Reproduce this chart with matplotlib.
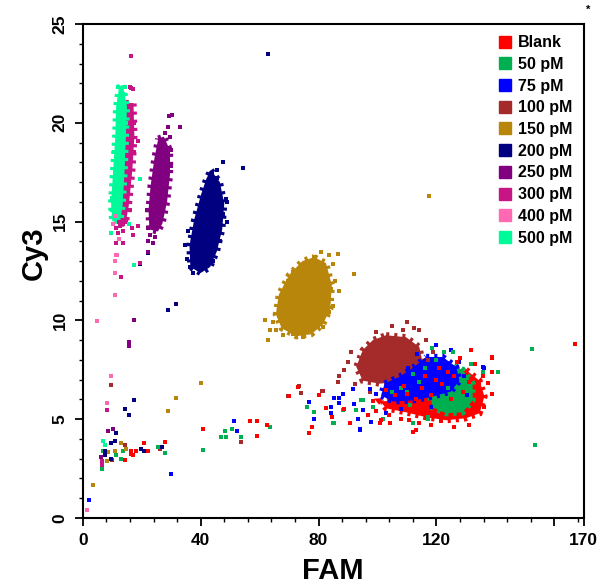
import matplotlib
matplotlib.use('Agg')
import matplotlib.pyplot as plt
from matplotlib.patches import Polygon
from matplotlib.lines import Line2D

plt.rcParams['font.family'] = ['Liberation Sans', 'DejaVu Sans']
plt.rcParams['font.weight'] = 'bold'

labels = ['Blank', '50 pM', '75 pM', '100 pM', '150 pM', '200 pM', '250 pM', '300 pM', '400 pM', '500 pM']
colors = ['#FF0000', '#00B050', '#0000FF', '#A52A2A', '#B8860B', '#000080', '#800080', '#C71585', '#FF69B4', '#00FA9A']

# dense cores (outline of the solid part of each cluster), FAM / Cy3
blank_core = [(130, 7.5), (134.6, 6.95), (136.3, 6.15), (134.6, 5.3), (130, 5.05), (123.3, 4.95), (116.5, 5.1),
              (109.7, 5.35), (102.9, 5.55), (101.0, 5.9), (107.5, 5.95), (114.2, 6.15), (119.9, 6.45), (125.5, 7.15)]
pm50_core = [(123.3, 7.8), (128.9, 7.5), (132.3, 6.8), (132.3, 5.95), (128.9, 5.35), (123.3, 5.3), (118.7, 5.6),
             (117.6, 6.45), (119.9, 7.3)]
pm75_core = [(116.5, 8.15), (122.1, 8.15), (126.7, 7.65), (127.8, 6.95), (124.9, 6.4), (118.7, 6.15), (112, 5.95),
             (105.2, 5.9), (101.2, 6.2), (102.4, 6.8), (107.5, 7.15), (112.5, 7.65)]
pm100_core = [(102.9, 9.25), (109.7, 9.15), (114.2, 8.65), (115.4, 7.8), (113.1, 7.2), (107.5, 6.9), (100.7, 6.8),
              (95, 6.95), (92.8, 7.65), (95, 8.5), (98.4, 9.0)]
pm150_core = [(78.5, 13.2), (82.5, 12.9), (84.5, 11.8), (84.0, 10.6), (81.5, 9.8), (77.5, 9.3), (72.5, 9.2),
              (67.5, 9.6), (65.5, 10.3), (66.5, 11.3), (70.0, 12.3), (74.5, 13.0)]
pm200_core = [(43.5, 17.6), (46.5, 17.0), (48.0, 15.9), (47.3, 14.6), (45.5, 13.5), (43.2, 12.7), (40.0, 12.4),
              (36.5, 12.7), (36.2, 13.8), (37.8, 15.1), (40.2, 16.4), (42.0, 17.2)]
pm250_core = [(25.6, 19.2), (27.5, 19.3), (29.6, 18.6), (29.6, 17.4), (28.6, 16.0), (27.0, 14.9), (25.5, 14.5),
              (22.6, 14.6), (22.3, 15.6), (23.0, 16.8), (24.3, 18.2)]
pm300_core = [(14.6, 21.0), (17.2, 21.0), (17.5, 19.3), (16.8, 17.6), (15.6, 15.8), (14.5, 14.9), (11.8, 14.9),
              (12.0, 15.9), (13.0, 17.6), (13.6, 19.3), (13.6, 20.8)]
pm500_core = [(13.6, 21.9), (15.0, 20.8), (14.6, 19.2), (14.2, 17.6), (13.5, 15.8), (12.8, 15.1), (10.0, 15.0),
              (9.6, 15.9), (10.3, 17.6), (11.0, 19.2), (11.3, 20.8), (12.3, 21.8)]

# single drops
blank_pts = [(14.2, 2.95), (16.3, 3.4), (16.4, 3.25), (17.2, 3.2), (17.9, 3.4), (20.7, 3.8), (22.1, 3.4), (28.0, 3.85),
             (40.8, 4.5), (56.6, 4.9), (59.2, 4.9), (59.2, 4.15), (62.6, 4.7), (73, 6.65), (69.9, 6.15), (80.1, 6.25),
             (82.6, 5.55), (84.6, 5.1), (77.8, 4.6), (76.6, 4.3), (88.5, 5.5), (90.5, 4.8), (96.7, 5.2), (100.7, 4.8),
             (112, 4.35), (121.6, 4.9), (114.2, 4.8), (138.9, 8.1), (138.9, 7.4), (135.7, 7.2), (137.6, 6.85),
             (134.6, 6.85), (167.1, 8.8), (104, 5.2), (108, 5.0), (118, 4.7), (126, 4.6), (131, 4.7), (136, 5.6),
             (139, 6.3), (133, 7.8), (128, 8.1), (131.7, 8.5), (139, 8.15), (101.2, 4.95), (110.8, 4.95),
             (113.1, 4.45), (104.1, 4.8), (110, 6.3), (115, 6.6), (120, 7.0), (124, 7.4), (127, 7.9), (118, 6.2),
             (122, 6.8), (126, 7.2), (113, 6.0), (129, 6.4), (131, 6.9), (125, 6.0), (106, 6.2),
             (98.5, 5.9), (99.5, 5.4), (103, 6.5), (116, 7.2), (121, 7.6), (109, 6.7)]
pm50_pts = [(7.0, 3.4), (6.5, 2.5), (11.4, 3.2), (13.7, 3.4), (12.9, 3.0), (25.5, 3.6), (28.0, 3.3), (40.8, 3.45),
            (46.8, 4.1), (48.7, 4.1), (48.2, 4.4), (50.7, 4.5), (53.8, 4.1), (63.4, 4.6), (76, 5.6), (78.6, 5.35),
            (85.1, 4.8), (92.8, 5.45), (95, 5.95), (101.8, 5.0), (112, 4.8), (117, 5.0), (141, 7.4), (152.3, 8.55),
            (153.6, 3.7), (122.7, 8.4), (125.5, 8.4), (131.7, 7.8), (135.7, 7.4), (140.8, 7.4), (117, 5.1),
            (88.2, 5.45), (84.9, 4.8), (94.5, 5.95), (98.4, 5.6), (110, 6.4), (114, 6.9), (108, 6.6), (116, 7.6),
            (120, 8.0), (112, 7.3), (121, 5.6), (126, 5.5), (124, 6.6), (105, 6.4), (111, 5.7), (118.5, 8.6)]
pm75_pts = [(2.1, 0.9), (30.0, 2.25), (51.3, 4.9), (52.4, 4.4), (76.6, 5.85), (85.1, 6.05), (84.3, 5.6), (84.1, 5.3),
            (78.4, 5.0), (88.2, 6.3), (87.1, 5.8), (93.3, 5.0), (93.9, 4.5), (91.9, 5.75), (136.3, 7.6), (119.9, 8.75),
            (125, 8.5), (127.8, 7.9), (135.7, 7.65), (87.1, 6.05), (95, 5.45), (93.9, 4.45), (97.9, 4.85),
            (102.9, 5.3), (91.6, 6.55), (97.3, 6.55), (129.5, 7.2), (118, 5.6), (108, 5.5), (99.5, 6.3),
            (113.5, 8.3), (110.5, 7.6), (130.5, 6.2)]
pm100_pts = [(9.5, 6.75), (8.2, 2.9), (9.9, 2.95), (14.2, 3.7), (26.1, 3.5), (53.8, 3.85), (69.7, 6.15), (73.2, 6.7),
             (73.9, 6.35), (81.2, 6.45), (112.5, 9.6), (114.2, 9.5), (91.1, 8.4), (88.8, 7.5), (86.5, 6.9), (92.2, 6.8),
             (89.9, 7.9), (108.6, 9.5), (99.5, 9.4), (116.5, 9.0), (118.7, 8.4), (81.5, 6.45), (97.3, 6.4), (87.1, 7.2),
             (105, 9.7), (110, 9.9), (117, 8.0)]
pm150_pts = [(3.5, 1.65), (8.1, 2.9), (8.6, 3.35), (10.8, 3.4), (12.9, 3.8), (14.8, 3.5), (28.9, 5.4), (31.5, 6.05),
             (40, 6.85), (117.6, 16.3), (80.9, 13.45), (83.7, 13.3), (86.6, 13.35), (78.6, 13.2), (84.9, 12.85),
             (91.9, 12.35), (87.1, 11.5), (84.9, 10.75), (83.7, 10.4), (80.3, 9.9), (74.7, 9.15), (71.3, 9.3),
             (67.9, 9.25), (62.8, 9.0), (61.7, 10.0), (64.5, 9.9), (65.6, 9.5), (63.4, 9.5), (67.9, 11.0),
             (69.6, 12.0), (71.3, 12.45), (66.8, 10.7), (81.5, 9.65), (85.5, 12.0), (84.2, 11.6)]
pm200_pts = [(9.5, 3.8), (10.8, 3.9), (11.4, 4.3), (7.5, 3.4), (7.6, 3.2), (9.5, 3.0), (19.9, 3.5), (20.7, 3.4),
             (26.9, 3.6), (17.3, 5.95), (14.2, 5.5), (15.6, 5.2), (22.1, 13.4), (19.4, 12.85), (31.6, 10.85),
             (28.8, 10.55), (62.7, 23.5), (47.6, 18.0), (54.3, 17.7), (45.6, 17.2), (48.7, 16.15), (48.9, 16.0),
             (34.6, 13.8), (35.4, 13.1), (36.3, 12.7), (41.4, 12.7), (44.2, 13.0), (47.6, 15.4), (45.5, 17.6),
             (44, 17.4), (35.8, 14.5), (37.5, 12.4), (49.0, 15.0), (46.5, 14.0)]
pm250_pts = [(8.6, 4.4), (10.3, 4.5), (6.3, 3.1), (17.3, 10.0), (15.6, 8.9), (15.6, 8.7), (30.1, 20.4), (29.3, 20.35),
             (32.9, 19.8), (27.8, 19.5), (29.5, 19.3), (22.1, 14.7), (22.7, 14.3), (22.1, 13.45), (23.8, 13.9),
             (22.1, 14.0), (30.0, 18.6), (29.8, 17.8), (21.9, 15.6), (24.5, 14.2), (28.9, 19.8)]
pm300_pts = [(6.5, 2.9), (6.6, 2.7), (8.2, 5.45), (13, 12.2), (16.3, 23.4), (16.5, 21.75), (17.1, 21.7), (15.9, 21.8),
             (18.7, 19.1), (11.2, 14.7), (12.5, 14.8), (12, 14.4), (13.7, 14.5), (16.7, 14.7), (17.1, 14.3),
             (18.7, 14.8), (11.4, 13.9), (13.7, 13.9), (19.3, 12.9), (17.3, 18.5), (17.5, 20.0), (16.0, 15.6),
             (14.5, 15.0), (12.4, 15.0), (13.5, 14.9)]
pm400_pts = [(1.5, 0.4), (8.2, 5.8), (11.6, 13.3), (10.8, 13.0), (10.8, 12.4), (10.8, 11.3), (4.7, 9.95), (9.5, 7.2),
             (10.3, 14.9), (11.2, 13.3), (12.2, 14.1), (11.0, 15.3)]
pm500_pts = [(6.7, 3.9), (7.5, 3.7), (14.2, 21.8), (13.7, 21.45), (19.3, 17.15), (15.7, 14.9), (9.7, 14.4),
             (17.4, 12.8), (10.0, 16.2), (9.8, 15.6), (10.5, 18.5), (14.6, 20.0), (12.0, 21.8)]

cores = {'Blank': blank_core, '50 pM': pm50_core, '75 pM': pm75_core, '100 pM': pm100_core,
         '150 pM': pm150_core, '200 pM': pm200_core, '250 pM': pm250_core, '300 pM': pm300_core,
         '500 pM': pm500_core}
points = {'Blank': blank_pts, '50 pM': pm50_pts, '75 pM': pm75_pts, '100 pM': pm100_pts,
          '150 pM': pm150_pts, '200 pM': pm200_pts, '250 pM': pm250_pts, '300 pM': pm300_pts,
          '400 pM': pm400_pts, '500 pM': pm500_pts}
col = dict(zip(labels, colors))

fig = plt.figure(figsize=(6.0, 5.85), dpi=100)
ax = fig.add_axes([0.138, 0.1145, 0.835, 0.8445])

# cores first, in the order they stack in the picture; dotted thick edge gives the ragged rim
core_order = ['100 pM', 'Blank', '50 pM', '75 pM', '150 pM', '200 pM', '250 pM', '300 pM', '500 pM']
for z, name in enumerate(core_order):
    ax.add_patch(Polygon(cores[name], closed=True, facecolor=col[name], edgecolor='none',
                         zorder=2 + z * 0.01))
    ax.add_patch(Polygon(cores[name], closed=True, fill=False, edgecolor=col[name],
                         linewidth=4.5, linestyle=(0, (0.5, 0.8)), zorder=2 + z * 0.01))

pts_order = ['100 pM', '75 pM', '50 pM', 'Blank', '150 pM', '200 pM', '250 pM', '300 pM', '400 pM', '500 pM']
for name in pts_order:
    xs, ys = zip(*points[name])
    ax.scatter(xs, ys, s=5, marker='s', color=col[name], linewidths=0, zorder=3)

ax.set_xlim(0, 170)
ax.set_ylim(0, 25)
ax.set_xticks([0, 40, 80, 120, 160, 170])
ax.set_xticklabels(['0', '40', '80', '120', '', '170'])
ax.set_xticks(range(0, 170, 8), minor=True)
ax.set_yticks([0, 5, 10, 15, 20, 25])
ax.set_yticks(range(0, 26), minor=True)
for lab in ax.get_yticklabels():
    lab.set_rotation(90)
    lab.set_va('center')
ax.tick_params(which='major', direction='out', length=6, width=1.3, labelsize=12.5, pad=5)
ax.tick_params(which='minor', direction='out', length=3, width=1.0)
for s in ax.spines.values():
    s.set_linewidth(1.5)

ax.set_xlabel('FAM', fontsize=21, fontweight='bold', va='center')
ax.set_ylabel('Cy3', fontsize=21, fontweight='bold', va='center')
ax.xaxis.set_label_coords(0.5, -0.107)
ax.yaxis.set_label_coords(-0.098, 0.535)

handles = [Line2D([], [], marker='s', linestyle='none', markersize=8, color=c) for c in colors]
ax.legend(handles, labels, loc='upper right', bbox_to_anchor=(1.0, 1.0), frameon=False,
          prop={'size': 11.5, 'weight': 'bold'}, handletextpad=0.3, labelspacing=0.42,
          handlelength=1.0, borderaxespad=0.3)

fig.text(0.98, 0.983, '*', fontsize=8, ha='center', va='center')

fig.savefig('out.png', dpi=100)
